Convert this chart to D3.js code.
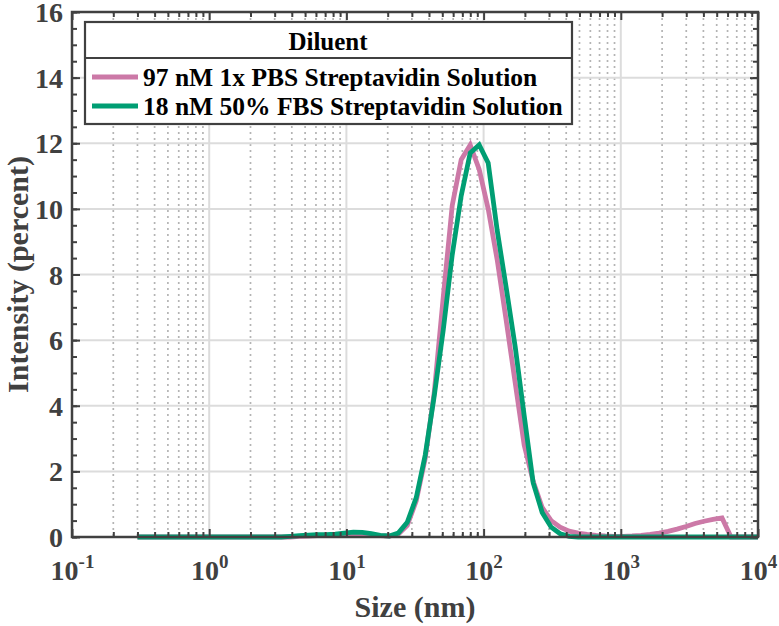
<!DOCTYPE html>
<html>
<head>
<meta charset="utf-8">
<script src="https://cdn.jsdelivr.net/npm/d3@7"></script>
<style>
  body { margin: 0; background: #fff; }
  svg text { font-family: "Liberation Serif", "Times New Roman", serif; font-weight: bold; }
</style>
</head>
<body>
<svg width="779" height="626"></svg>
<script>
// size bins (nm), same for both runs
var sizes = [0.300, 0.349, 0.406, 0.472, 0.549, 0.638, 0.742, 0.863, 1.004, 1.167,
  1.357, 1.578, 1.835, 2.134, 2.482, 2.886, 3.357, 3.904, 4.539, 5.279,
  6.140, 7.140, 8.303, 9.654, 11.23, 13.06, 15.19, 17.66, 20.53, 23.88,
  27.77, 32.29, 37.55, 43.67, 50.78, 59.06, 68.68, 79.87, 92.88, 108.0,
  125.6, 146.1, 169.9, 197.6, 229.8, 267.2, 310.8, 361.4, 420.3, 488.7,
  568.4, 661.0, 768.7, 893.9, 1039, 1209, 1406, 1635, 1901, 2211,
  2570, 2989, 3476, 4043, 4701, 5467, 6358, 7394, 8599, 10000];

// intensity (percent)
var pbs = [0, 0, 0, 0, 0, 0, 0, 0, 0, 0,
  0, 0, 0, 0, 0, 0, 0, 0, 0.02, 0.03,
  0.04, 0.05, 0.05, 0.06, 0.07, 0.07, 0.06, 0.04, 0.03, 0.08,
  0.35, 1.1, 2.4, 4.4, 7.3, 10.1, 11.5, 11.95, 11.2, 10.0,
  8.45, 6.6, 4.7, 2.8, 1.7, 0.9, 0.5, 0.3, 0.18, 0.12,
  0.08, 0.05, 0.03, 0.02, 0.02, 0.03, 0.05, 0.08, 0.12, 0.17,
  0.24, 0.32, 0.41, 0.48, 0.54, 0.58, 0, 0, 0, 0];

var fbs = [0, 0, 0, 0, 0, 0, 0, 0, 0, 0,
  0, 0, 0, 0, 0, 0, 0, 0.02, 0.04, 0.06,
  0.07, 0.07, 0.09, 0.12, 0.15, 0.14, 0.1, 0.05, 0.03, 0.12,
  0.45, 1.2, 2.5, 4.3, 6.3, 8.6, 10.4, 11.7, 11.95, 11.4,
  9.35, 7.6, 5.8, 3.7, 1.65, 0.75, 0.3, 0.1, 0.02, 0,
  0, 0, 0, 0, 0, 0, 0, 0, 0, 0,
  0, 0, 0, 0, 0, 0, 0, 0, 0, 0];

var seriesNames = ["97 nM 1x PBS Streptavidin Solution", "18 nM 50% FBS Streptavidin Solution"];
var seriesColors = ["#cc79a7", "#009e73"];
var legendTitle = "Diluent";

var xMajor = [0.1, 1, 10, 100, 1000, 10000];
var xExp = ["-1", "0", "1", "2", "3", "4"];
var yMajor = [0, 2, 4, 6, 8, 10, 12, 14, 16];

var svg = d3.select("svg");
var L = 72, R = 758, T = 12, B = 537;
var axisColor = "#404040";

var x = d3.scaleLog().domain([0.1, 10000]).range([L, R]);
var y = d3.scaleLinear().domain([0, 16]).range([B, T]);

// minor values: 2..9 times each decade
var xMinor = [];
xMajor.slice(0, -1).forEach(function(m) {
  for (var k = 2; k <= 9; k++) xMinor.push(m * k);
});
var yMinor = d3.range(0, 16.01, 0.5);

// grid
svg.append("g").selectAll("line").data(xMinor).enter().append("line")
  .attr("x1", function(d) { return x(d); }).attr("x2", function(d) { return x(d); })
  .attr("y1", T).attr("y2", B)
  .attr("stroke", "#b4b4b4").attr("stroke-width", 1.7).attr("stroke-dasharray", "2,4");
svg.append("g").selectAll("line").data(xMajor.slice(1, -1)).enter().append("line")
  .attr("x1", function(d) { return x(d); }).attr("x2", function(d) { return x(d); })
  .attr("y1", T).attr("y2", B)
  .attr("stroke", "#dcdcdc").attr("stroke-width", 2);
svg.append("g").selectAll("line").data(yMajor.slice(1, -1)).enter().append("line")
  .attr("x1", L).attr("x2", R)
  .attr("y1", function(d) { return y(d); }).attr("y2", function(d) { return y(d); })
  .attr("stroke", "#dcdcdc").attr("stroke-width", 2);

// curves
var line = d3.line()
  .x(function(d) { return x(d[0]); })
  .y(function(d) { return y(d[1]); });
[pbs, fbs].forEach(function(vals, i) {
  svg.append("path")
    .datum(sizes.map(function(s, j) { return [s, vals[j]]; }))
    .attr("d", line)
    .attr("fill", "none")
    .attr("stroke", seriesColors[i])
    .attr("stroke-width", 4.8);
});

// axes, ticks pointing inward
function addAxis(axis, tf, labels) {
  var g = svg.append("g").attr("transform", tf).call(axis);
  g.select(".domain").remove();
  g.selectAll(".tick line").attr("stroke", axisColor).attr("stroke-width", 2);
  if (!labels) g.selectAll(".tick text").remove();
  return g;
}
addAxis(d3.axisBottom(x).tickValues(xMinor).tickSize(-5), "translate(0," + B + ")", false);
addAxis(d3.axisTop(x).tickValues(xMinor).tickSize(-5), "translate(0," + T + ")", false);
addAxis(d3.axisTop(x).tickValues(xMajor).tickSize(-8), "translate(0," + T + ")", false);
addAxis(d3.axisLeft(y).tickValues(yMinor).tickSize(-5), "translate(" + L + ",0)", false);
addAxis(d3.axisRight(y).tickValues(yMinor).tickSize(-5), "translate(" + R + ",0)", false);
addAxis(d3.axisRight(y).tickValues(yMajor).tickSize(-8), "translate(" + R + ",0)", false);

var xg = addAxis(d3.axisBottom(x).tickValues(xMajor).tickSize(-8).tickPadding(43).tickFormat(""),
  "translate(0," + B + ")", true);
xg.selectAll(".tick text").each(function(d, i) {
  var t = d3.select(this).text("")
    .attr("fill", axisColor).attr("font-size", 28).attr("text-anchor", "middle").attr("dy", 0);
  t.append("tspan").text("10");
  t.append("tspan").text(xExp[i]).attr("font-size", 19).attr("dy", -12);
});

var yg = addAxis(d3.axisLeft(y).tickValues(yMajor).tickSize(-8).tickPadding(9),
  "translate(" + L + ",0)", true);
yg.selectAll(".tick text").attr("fill", axisColor).attr("font-size", 28).attr("dy", "0.34em");

// box
svg.append("rect").attr("x", L).attr("y", T).attr("width", R - L).attr("height", B - T)
  .attr("fill", "none").attr("stroke", axisColor).attr("stroke-width", 2.5);

// axis titles
svg.append("text").attr("x", (L + R) / 2).attr("y", 617)
  .attr("text-anchor", "middle").attr("font-size", 30).attr("fill", axisColor)
  .text("Size (nm)");
svg.append("text").attr("transform", "translate(28," + (T + B) / 2 + ") rotate(-90)")
  .attr("text-anchor", "middle").attr("font-size", 30).attr("fill", axisColor)
  .text("Intensity (percent)");

// legend
var lg = svg.append("g");
lg.append("rect").attr("x", 85).attr("y", 22).attr("width", 487).attr("height", 102)
  .attr("fill", "#fff").attr("stroke", axisColor).attr("stroke-width", 2.2);
lg.append("line").attr("x1", 85).attr("x2", 572).attr("y1", 58).attr("y2", 58)
  .attr("stroke", axisColor).attr("stroke-width", 2.2);
lg.append("text").attr("x", 328).attr("y", 50).attr("text-anchor", "middle")
  .attr("font-size", 25).attr("fill", "#000").text(legendTitle);
seriesNames.forEach(function(name, i) {
  var cy = 77 + i * 29;
  lg.append("line").attr("x1", 92).attr("x2", 138).attr("y1", cy).attr("y2", cy)
    .attr("stroke", seriesColors[i]).attr("stroke-width", 4.8);
  lg.append("text").attr("x", 143).attr("y", cy + 9).attr("font-size", 25.5)
    .attr("fill", "#000").text(name);
});
</script>
</body>
</html>
